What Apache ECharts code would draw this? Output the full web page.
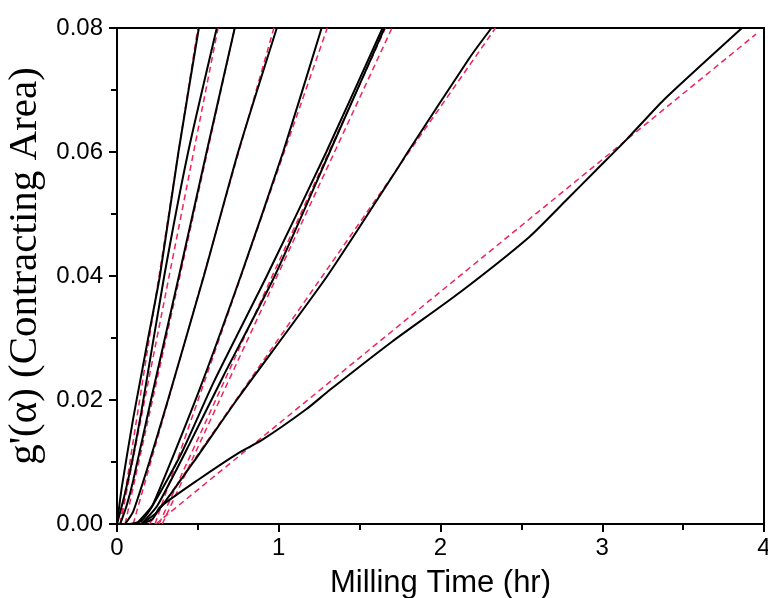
<!DOCTYPE html>
<html>
<head>
<meta charset="utf-8">
<script src="https://cdn.jsdelivr.net/npm/echarts@6/dist/echarts.min.js"></script>
<style>html,body{margin:0;padding:0;background:#fff;}#c{width:768px;height:598px;}</style>
</head>
<body>
<div id="c"></div>
<script>
// Measured curves (black solid): [milling time (hr), g'(alpha)]
const measured1 = [[0,0],[0.03,0.006],[0.1,0.017],[0.15,0.024],[0.2,0.031],[0.265,0.04],[0.38,0.06],[0.506,0.08]];
const measured2 = [[0,0],[0.05,0.005],[0.1,0.011],[0.15,0.018],[0.292,0.04],[0.44,0.06],[0.617,0.08]];
const measured3 = [[0.02,0],[0.06,0.003],[0.1,0.007],[0.21,0.02],[0.383,0.04],[0.554,0.06],[0.728,0.08]];
const measured4 = [[0.05,0],[0.1,0.002],[0.2,0.01],[0.315,0.02],[0.537,0.04],[0.749,0.06],[0.988,0.08]];
const measured5 = [[0.08,0],[0.15,0.0005],[0.22,0.003],[0.5,0.021],[0.765,0.04],[1.027,0.06],[1.265,0.08]];
const measured6 = [[0.12,0],[0.22,0.003],[0.4,0.0115],[0.6,0.023],[0.926,0.04],[1.294,0.06],[1.642,0.08]];
const measured7 = [[0.15,0],[0.25,0.003],[0.45,0.013],[0.66,0.024],[0.975,0.04],[1.315,0.06],[1.654,0.08]];
const measured8 = [[0.15,0],[0.25,0.002],[0.5,0.011],[0.74,0.02],[1.3,0.04],[1.728,0.0571],[1.798,0.06],[2.18,0.0752],[2.315,0.08]];
const measured9 = [[0.15,0],[0.22,0.0008],[0.265,0.0027],[0.5,0.0071],[0.76,0.0116],[0.9,0.0136],[1.17,0.0185],[1.315,0.0216],[1.7,0.0294],[2.117,0.0373],[2.549,0.0463],[2.78,0.0523],[2.963,0.0571],[3.15,0.062],[3.38,0.0684],[3.864,0.08]];

// Linear fits (red dashed)
const fit1 = [[0.02,0],[0.5,0.08]];
const fit2 = [[0.02,0],[0.625,0.08]];
const fit3 = [[0.05,0],[0.728,0.08]];
const fit4 = [[0.1,0],[0.97,0.08]];
const fit5 = [[0.235,0],[1.3,0.08]];
const fit6 = [[0.26,0],[1.66,0.08]];
const fit7 = [[0.28,0],[1.7,0.08]];
const fit8 = [[0.2,0],[2.34,0.08]];
const fit9 = [[0.24,0],[3.95,0.079]];

const xTicks = [0,1,2,3,4];
const yTicks = [0,0.02,0.04,0.06,0.08];

const measuredList = [measured1,measured2,measured3,measured4,measured5,measured6,measured7,measured8,measured9];
const fitList = [fit1,fit2,fit3,fit4,fit5,fit6,fit7,fit8,fit9];

const series = [];
fitList.forEach((d,i)=>series.push({
  type:'line', data:d, symbol:'none', silent:true, z:2,
  lineStyle:{color:'#f0245a', width:1.5, type:[6,4]}
}));
measuredList.forEach((d,i)=>series.push({
  type:'line', data:d, symbol:'none', silent:true, z:3, smooth:0.2,
  lineStyle:{color:'#000', width:2}
}));

const chart = echarts.init(document.getElementById('c'), null, {renderer:'canvas'});
chart.setOption({
  animation:false,
  backgroundColor:'#fff',
  grid:{left:117, right:4, top:28, bottom:74, containLabel:false, outerBoundsMode:'none',
        show:true, borderColor:'#000', borderWidth:2, backgroundColor:'transparent'},
  xAxis:{
    type:'value', min:xTicks[0], max:xTicks[xTicks.length-1], interval:1,
    name:'Milling Time (hr)', nameLocation:'middle', nameGap:44,
    nameTextStyle:{fontFamily:'Liberation Sans', fontSize:31, color:'#000'},
    axisLine:{show:true, lineStyle:{color:'#000', width:2}},
    axisTick:{show:true, inside:false, length:8, lineStyle:{color:'#000', width:2}},
    minorTick:{show:true, splitNumber:2, length:6, lineStyle:{color:'#000', width:2}},
    axisLabel:{fontFamily:'Liberation Sans', fontSize:24, color:'#000', margin:12},
    splitLine:{show:false}
  },
  yAxis:{
    type:'value', min:yTicks[0], max:yTicks[yTicks.length-1], interval:0.02,
    name:"g'(\u03b1) (Contracting Area)", nameLocation:'middle', nameGap:70,
    nameTextStyle:{fontFamily:'Liberation Serif', fontSize:41, color:'#000', padding:[0,0,0,20]},
    axisLine:{show:true, lineStyle:{color:'#000', width:2}},
    axisTick:{show:true, inside:false, length:8, lineStyle:{color:'#000', width:2}},
    minorTick:{show:true, splitNumber:2, length:6, lineStyle:{color:'#000', width:2}},
    axisLabel:{fontFamily:'Liberation Sans', fontSize:24, color:'#000', margin:14, formatter:v=>v.toFixed(2)},
    splitLine:{show:false}
  },
  series:series
});
</script>
</body>
</html>
